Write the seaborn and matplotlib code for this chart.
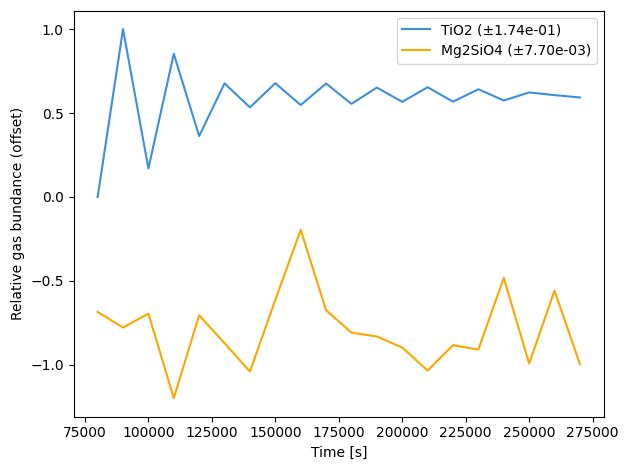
import matplotlib
matplotlib.use("Agg")
import matplotlib.pyplot as plt
import seaborn as sns
import pandas as pd

# Data
tempo = [80000, 90000, 100000, 110000, 120000, 130000, 140000, 150000, 160000, 170000,
         180000, 190000, 200000, 210000, 220000, 230000, 240000, 250000, 260000, 270000]
tio2 = [0.0, 1.0, 0.17, 0.853, 0.363, 0.677, 0.534, 0.678, 0.548, 0.676,
        0.555, 0.652, 0.567, 0.654, 0.568, 0.642, 0.575, 0.623, 0.607, 0.593]
mg2sio4 = [-0.685, -0.778, -0.695, -1.198, -0.705, -0.871, -1.04, -0.613, -0.196, -0.675,
           -0.808, -0.831, -0.897, -1.034, -0.883, -0.909, -0.482, -0.992, -0.558, -0.996]
rotulos = ["TiO2 (±1.74e-01)", "Mg2SiO4 (±7.70e-03)"]
cores = ["#3b8fde", "orange"]

df = pd.DataFrame({
    "time": tempo * 2,
    "valor": tio2 + mg2sio4,
    "serie": [rotulos[0]] * len(tempo) + [rotulos[1]] * len(tempo),
})

fig, ax = plt.subplots(figsize=(6.29, 4.7), dpi=100)
sns.lineplot(data=df, x="time", y="valor", hue="serie", palette=cores, ax=ax)

ax.set_xlabel("Time [s]")
ax.set_ylabel("Relative gas bundance (offset)")
ax.legend(loc="upper right")

# margens iguais às da referência
fig.subplots_adjust(left=0.1169, right=0.9603, top=0.9772, bottom=0.1138)
plt.savefig("out.png", dpi=100)
